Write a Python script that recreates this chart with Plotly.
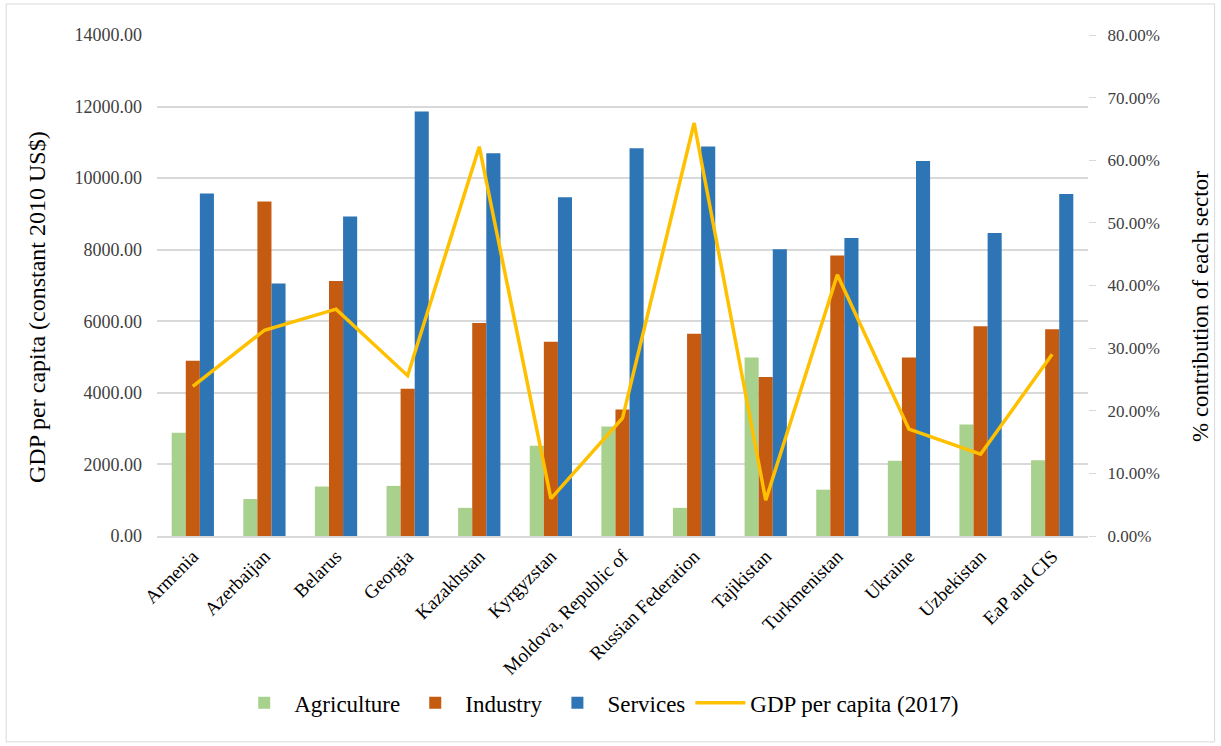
import plotly.graph_objects as go

countries = ["Armenia", "Azerbaijan", "Belarus", "Georgia", "Kazakhstan", "Kyrgyzstan",
             "Moldova, Republic of", "Russian Federation", "Tajikistan", "Turkmenistan",
             "Ukraine", "Uzbekistan", "EaP and CIS"]
agriculture = [16.5, 5.9, 7.9, 8.0, 4.5, 14.4, 17.5, 4.5, 28.5, 7.4, 12.0, 17.8, 12.1]
industry = [28.0, 53.4, 40.7, 23.5, 34.0, 31.0, 20.2, 32.3, 25.4, 44.8, 28.5, 33.5, 33.0]
services = [54.7, 40.3, 51.0, 67.8, 61.1, 54.1, 61.9, 62.2, 45.8, 47.6, 59.9, 48.4, 54.6]
gdp_per_capita = [4180, 5750, 6340, 4480, 10880, 1045, 3290, 11540, 1000, 7300, 2985, 2285, 5080]

FONT = "Liberation Serif, Times New Roman, DejaVu Serif, serif"
fig = go.Figure()
fig.add_trace(go.Bar(x=countries, y=agriculture, name="Agriculture", marker_color="#A9D18E",
                     marker_line_width=0, yaxis="y"))
fig.add_trace(go.Bar(x=countries, y=industry, name="Industry", marker_color="#C55A11",
                     marker_line_width=0, yaxis="y"))
fig.add_trace(go.Bar(x=countries, y=services, name="Services", marker_color="#2E75B6",
                     marker_line_width=0, yaxis="y"))
fig.add_trace(go.Scatter(x=countries, y=gdp_per_capita, name="GDP per capita (2017)",
                         mode="lines", line=dict(color="#FFC000", width=3.5), yaxis="y2"))

fig.update_layout(
    width=1221, height=746,
    margin=dict(l=157, r=133, t=35, b=210),
    paper_bgcolor="white", plot_bgcolor="white",
    font=dict(family=FONT, color="#000000"),
    barmode="group", bargap=0.41, bargroupgap=0,
    showlegend=True,
    legend=dict(orientation="h", x=0.475, xanchor="center", y=-0.333, yanchor="middle",
                font=dict(size=23, family=FONT), traceorder="normal", itemwidth=50),
    xaxis=dict(tickangle=-45, tickfont=dict(size=19, family=FONT, color="#000"),
               showgrid=False, showline=True, linecolor="#d9d9d9", linewidth=1.5,
               ticks=""),
    yaxis=dict(side="right", range=[0, 80], dtick=10, tickformat=".2f", ticksuffix="%",
               showgrid=False, zeroline=False, ticks="outside", ticklen=7, tickcolor="#d9d9d9",
               ticklabelstandoff=8,
               tickfont=dict(size=17, family=FONT, color="#404040")),
    yaxis2=dict(side="left", overlaying="y", range=[0, 14000], dtick=2000, tickformat=".2f",
                showgrid=True, gridcolor="#d9d9d9", gridwidth=1.5, zeroline=False, ticks="",
                ticklabelstandoff=14,
                tickfont=dict(size=18, family=FONT, color="#404040")),
    annotations=[
        dict(text="GDP per capita (constant 2010 US$)", xref="paper", yref="paper",
             x=(37 - 157) / 931, y=(536 - 307) / 501, textangle=-90, showarrow=False,
             xanchor="center", yanchor="middle", font=dict(size=24, family=FONT, color="#000")),
        dict(text="% contribution of each sector", xref="paper", yref="paper",
             x=(1200 - 157) / 931, y=(536 - 307) / 501, textangle=-90, showarrow=False,
             xanchor="center", yanchor="middle", font=dict(size=23, family=FONT, color="#000")),
    ],
    shapes=[dict(type="rect", xref="paper", yref="paper", x0=-0.162, x1=1.136, y0=-0.411, y1=1.062,
                 line=dict(color="#d9d9d9", width=1), layer="below")],
)

fig.write_html("out.html")
